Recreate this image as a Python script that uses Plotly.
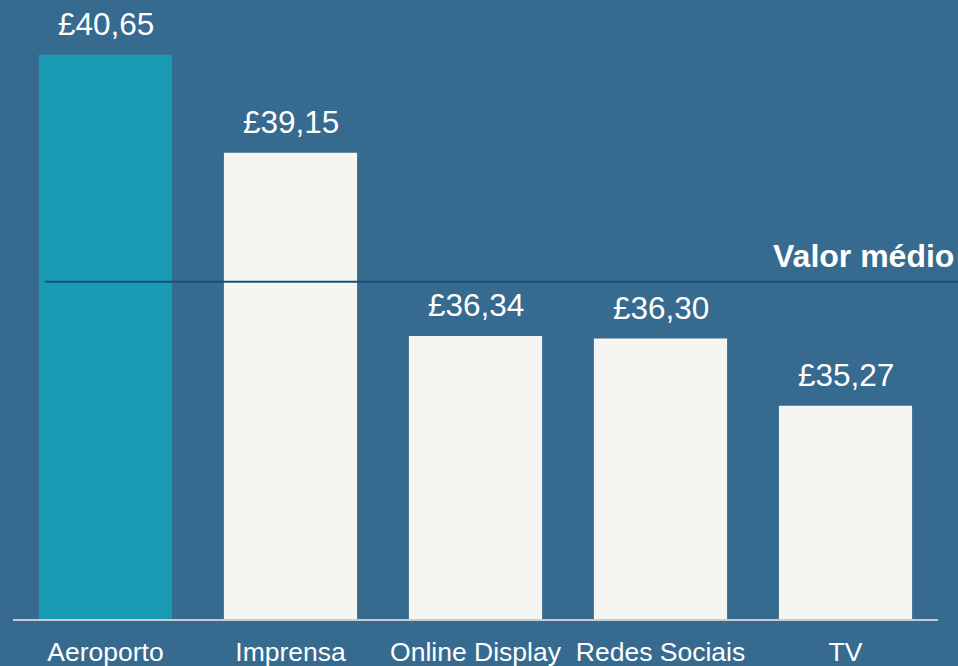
"""
Average spend per channel — bar chart with a reference line for the mean value.
"""

import plotly.graph_objects as go

# ---------------------------------------------------------------------------
# Data
# ---------------------------------------------------------------------------

channels = ["Aeroporto", "Imprensa", "Online Display", "Redes Sociais", "TV"]
values = [40.65, 39.15, 36.34, 36.30, 35.27]
value_labels = ["£40,65", "£39,15", "£36,34", "£36,30", "£35,27"]
average_value = 37.17
average_label = "Valor médio"

# ---------------------------------------------------------------------------
# Style
# ---------------------------------------------------------------------------

_BG = "#366a8f"
_HIGHLIGHT = "#189ab3"
_BAR = "#f5f5f1"
_AVG_LINE = "#16507e"
_AXIS = "#c8ccd0"
_FONT = "Liberation Sans, Arial, sans-serif"

colors = [_HIGHLIGHT if i == 0 else _BAR for i in range(len(channels))]

fig = go.Figure(
    go.Bar(
        x=channels,
        y=values,
        marker=dict(color=colors, line=dict(width=0)),
        hoverinfo="x+y",
        showlegend=False,
    )
)

# value labels above each bar
for ch, v, lab in zip(channels, values, value_labels):
    fig.add_annotation(
        x=ch, y=v, text=lab, showarrow=False,
        yanchor="bottom", yshift=11,
        font=dict(family=_FONT, size=31.5, color="white"),
    )

# average reference line, runs past the right edge of the plot
x_left = (45 - 13) / 925
x_right = (958 - 13) / 925
fig.add_shape(
    type="line", xref="paper", yref="y",
    x0=x_left, x1=x_right, y0=average_value, y1=average_value,
    line=dict(color=_AVG_LINE, width=2),
)
fig.add_annotation(
    xref="paper", yref="y", x=x_right - 0.002, y=average_value,
    text=f"<b>{average_label}</b>", showarrow=False,
    xanchor="right", yanchor="bottom", yshift=6,
    font=dict(family=_FONT, size=32, color="white"),
)

fig.update_layout(
    width=958,
    height=666,
    paper_bgcolor=_BG,
    plot_bgcolor=_BG,
    bargap=0.28,
    margin=dict(l=13, r=20, t=0, b=47, autoexpand=False),
    xaxis=dict(
        showgrid=False, zeroline=False,
        showline=True, linecolor=_AXIS, linewidth=2,
        ticks="", ticklabelstandoff=8,
        tickfont=dict(family=_FONT, size=26.5, color="white"),
        automargin=False,
    ),
    yaxis=dict(
        range=[32, 41.49], showgrid=False, zeroline=False,
        showticklabels=False, showline=False, automargin=False,
    ),
    font=dict(family=_FONT, color="white"),
)

# drop the page margin so the figure fills the window
fig.write_html(
    "out.html",
    config={"displayModeBar": False},
    post_script=f"document.body.style.margin='0';"
                f"document.body.style.background='{_BG}';",
)
